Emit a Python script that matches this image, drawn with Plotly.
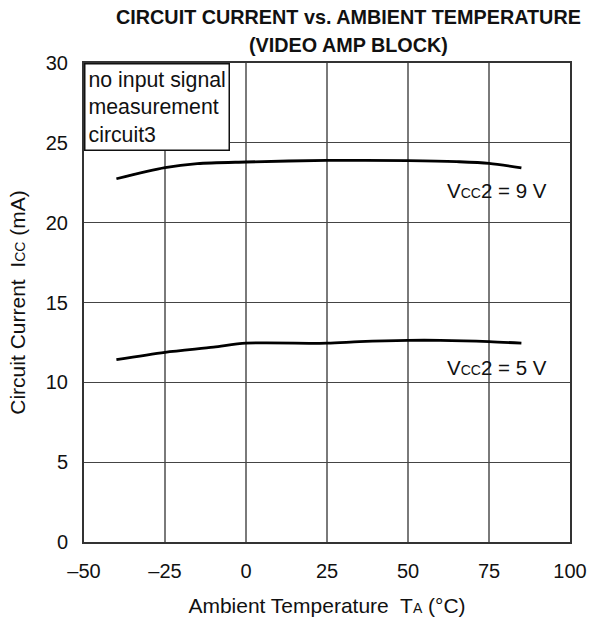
import plotly.graph_objects as go

# Ambient temperature (°C) and circuit current (mA) for each supply voltage
temp_9v = [-40, -25, -15, 0, 25, 50, 65, 75, 85]
icc_9v = [22.75, 23.45, 23.7, 23.8, 23.9, 23.88, 23.82, 23.72, 23.43]

temp_5v = [-40, -25, -10, 0, 25, 35, 50, 60, 75, 85]
icc_5v = [11.42, 11.88, 12.2, 12.45, 12.45, 12.55, 12.63, 12.63, 12.55, 12.45]

x_ticks = [-50, -25, 0, 25, 50, 75, 100]
y_ticks = [0, 5, 10, 15, 20, 25, 30]

FONT = "Liberation Sans, Arial, sans-serif"
SMALL = "<span style='font-size:14px'>{}</span>"

fig = go.Figure()
for t, i in ((temp_9v, icc_9v), (temp_5v, icc_5v)):
    fig.add_trace(go.Scatter(
        x=t, y=i, mode="lines",
        line=dict(color="black", width=2.8, shape="spline", smoothing=0.8),
        showlegend=False, hoverinfo="skip",
    ))

# Curve labels
fig.add_annotation(
    x=93.5, y=22.0, xanchor="right", yanchor="middle", showarrow=False,
    text="V" + SMALL.format("CC") + "2 = 9 V",
    font=dict(size=20.5, color="#111", family=FONT),
)
fig.add_annotation(
    x=93.5, y=10.92, xanchor="right", yanchor="middle", showarrow=False,
    text="V" + SMALL.format("CC") + "2 = 5 V",
    font=dict(size=20.5, color="#111", family=FONT),
)

# Measurement condition box
fig.add_annotation(
    x=0, y=1, xref="paper", yref="paper", xanchor="left", yanchor="top",
    showarrow=False, align="left",
    text="no input signal<br>measurement<br>circuit3",
    font=dict(size=21.3, color="#111", family=FONT),
    bgcolor="white", bordercolor="#111", borderwidth=1.5, borderpad=3,
)

# Two-line chart title
for txt, yy in (("CIRCUIT CURRENT vs. AMBIENT TEMPERATURE", 1.0962),
                ("(VIDEO AMP BLOCK)", 1.0377)):
    fig.add_annotation(
        x=0.545, y=yy, xref="paper", yref="paper", xanchor="center", yanchor="middle",
        showarrow=False, text="<b>" + txt + "</b>",
        font=dict(size=19.8, family=FONT, color="#111"),
    )

fig.update_layout(
    width=595, height=617,
    margin=dict(l=84, r=25, t=63, b=75),
    paper_bgcolor="white", plot_bgcolor="white",
    font=dict(family=FONT, size=20, color="#111"),
    xaxis=dict(
        range=[-50, 100], tickvals=x_ticks, ticktext=[str(v).replace("-", "–") for v in x_ticks],
        showgrid=True, gridcolor="#7a7a7a", gridwidth=1.5,
        showline=True, linecolor="#333", linewidth=2, mirror=True,
        zeroline=False, ticks="", ticklabelstandoff=10, automargin=False,
        title=dict(text="Ambient Temperature  T" + SMALL.format("A") + " (°C)",
                   font=dict(size=21), standoff=18),
    ),
    yaxis=dict(
        range=[0, 30], tickvals=y_ticks,
        showgrid=True, gridcolor="#444", gridwidth=1.3,
        showline=True, linecolor="#333", linewidth=2, mirror=True,
        zeroline=False, ticks="", ticklabelstandoff=10, automargin=False,
        title=dict(text="Circuit Current  I" + SMALL.format("CC") + " (mA)",
                   font=dict(size=21), standoff=14),
    ),
)

fig.write_html("out.html")
